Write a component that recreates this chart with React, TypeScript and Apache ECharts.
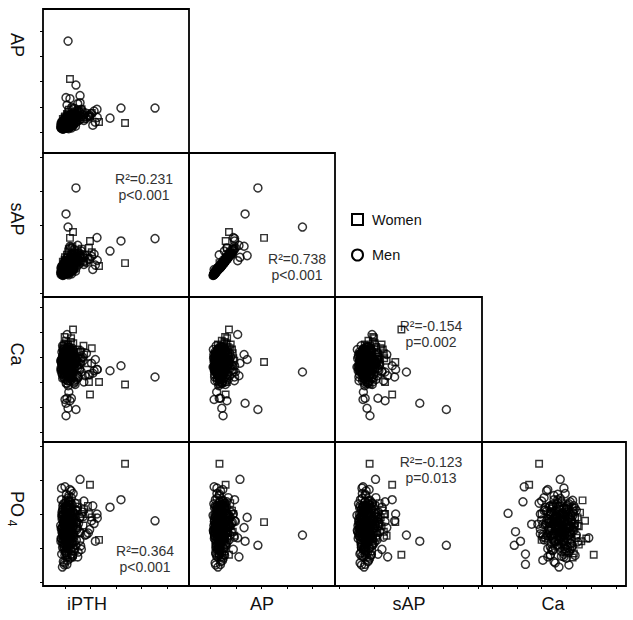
import React, { useEffect, useRef } from 'react';
import * as echarts from 'echarts';

// Variable order in every record: [iPTH, AP, sAP, Ca, PO4]
const variables = ['iPTH', 'AP', 'sAP', 'Ca', 'PO4'];
const rowVars = ['AP', 'sAP', 'Ca', 'PO4'];
const colVars = ['iPTH', 'AP', 'sAP', 'Ca'];
const rowTitles = ['AP', 'sAP', 'Ca', 'PO'];
const rowTitleSub = ['', '', '', '4'];
const colTitles = ['iPTH', 'AP', 'sAP', 'Ca'];

const axisRange: Record<string, [number, number]> = {
  iPTH: [27.5, 1172.5],
  AP: [17, 587],
  sAP: [-2.35, 82.35],
  Ca: [1.72, 2.88],
  PO4: [0.441, 2.559],
};
const axisTicks: Record<string, number[]> = {
  iPTH: [200, 400, 600, 800, 1000],
  AP: [100, 200, 300, 400, 500],
  sAP: [0, 20, 40, 60, 80],
  Ca: [1.8, 2.0, 2.2, 2.4, 2.6, 2.8],
  PO4: [0.5, 1.0, 1.5, 2.0, 2.5],
};

const menCore = [
  [178, 124, 12.8, 2.36, 1.42], [205, 138, 15.2, 2.29, 0.96], [232, 151, 17.9, 2.41, 1.63],
  [190, 117, 11.4, 2.24, 1.18], [251, 162, 19.6, 2.33, 1.05], [268, 131, 14.9, 2.45, 1.52],
  [214, 145, 16.4, 2.19, 1.28], [289, 174, 21.9, 2.38, 1.12], [172, 120, 12.3, 2.30, 1.71],
  [259, 156, 18.2, 2.47, 0.89], [236, 135, 14.3, 2.26, 1.37], [312, 182, 23.4, 2.34, 1.24],
  [186, 127, 13.1, 2.40, 1.58], [221, 148, 17.0, 2.21, 0.82], [342, 168, 20.9, 2.37, 1.46],
  [198, 114, 10.9, 2.32, 1.33], [253, 141, 16.1, 2.43, 1.07], [279, 159, 19.1, 2.18, 1.66],
  [211, 129, 13.8, 2.35, 1.21], [328, 190, 24.7, 2.28, 0.98], [176, 118, 11.7, 2.44, 1.49],
  [243, 153, 18.8, 2.23, 1.15], [264, 126, 13.4, 2.39, 1.80], [298, 166, 20.4, 2.31, 1.30],
  [191, 133, 14.6, 2.27, 1.02], [227, 146, 16.7, 2.48, 1.55], [358, 176, 22.1, 2.25, 1.19],
  [207, 121, 12.5, 2.42, 0.93], [274, 158, 19.4, 2.20, 1.41], [239, 138, 15.0, 2.36, 1.68],
  [316, 149, 17.4, 2.30, 1.11], [184, 112, 10.5, 2.46, 1.26], [250, 170, 21.2, 2.22, 1.74],
  [217, 129, 14.1, 2.38, 0.87], [293, 186, 23.1, 2.33, 1.38], [169, 116, 11.0, 2.29, 1.14],
  [231, 143, 16.3, 2.41, 1.47], [383, 164, 19.8, 2.26, 1.22], [201, 125, 13.6, 2.34, 1.61],
  [261, 152, 17.7, 2.44, 1.00], [225, 133, 14.8, 2.17, 1.35], [338, 180, 22.6, 2.40, 1.53],
  [194, 119, 12.1, 2.31, 0.78], [284, 161, 19.9, 2.37, 1.29], [248, 140, 15.6, 2.24, 1.84],
  [408, 172, 21.6, 2.35, 1.40], [181, 123, 12.7, 2.49, 1.09], [235, 156, 18.5, 2.28, 1.57],
  [303, 144, 16.5, 2.39, 0.94], [213, 128, 13.5, 2.32, 1.44], [271, 194, 25.6, 2.21, 1.16],
  [188, 114, 11.2, 2.42, 1.65], [246, 137, 15.3, 2.27, 1.25], [323, 160, 18.9, 2.45, 1.03],
  [209, 147, 16.9, 2.19, 1.50], [266, 171, 21.0, 2.34, 1.33], [174, 122, 12.0, 2.38, 0.91],
  [230, 135, 15.4, 2.30, 1.77], [368, 155, 18.0, 2.43, 1.20], [197, 131, 14.0, 2.25, 1.43],
  [257, 165, 20.3, 2.36, 1.08], [219, 142, 15.9, 2.46, 1.62], [428, 183, 22.9, 2.29, 1.36],
  [185, 117, 11.8, 2.33, 1.17], [241, 150, 17.6, 2.40, 0.85], [287, 138, 14.7, 2.22, 1.55],
  [203, 126, 13.0, 2.37, 1.30], [314, 178, 22.3, 2.31, 1.45], [227, 159, 19.0, 2.44, 1.06],
  [348, 146, 16.8, 2.20, 1.69], [193, 120, 12.4, 2.35, 1.23], [253, 198, 26.5, 2.28, 1.39],
  [276, 153, 17.2, 2.39, 0.99], [215, 132, 14.2, 2.47, 1.58], [393, 167, 20.1, 2.26, 1.27],
  [183, 111, 10.3, 2.32, 1.48], [237, 144, 16.0, 2.41, 1.13], [297, 163, 19.7, 2.23, 1.60],
  [206, 136, 15.5, 2.36, 0.95], [263, 176, 22.4, 2.43, 1.32], [453, 158, 19.2, 2.30, 1.44],
  [438, 139, 16.4, 2.38, 1.10], [418, 127, 13.9, 2.27, 1.62], [180, 130, 14.4, 2.34, 0.72],
  [195, 121, 12.9, 2.42, 0.75], [238, 149, 17.3, 2.25, 1.86], [211, 136, 15.1, 2.33, 1.79],
  [173, 126, 13.2, 2.38, 1.88], [187, 142, 16.6, 2.30, 0.80], [222, 118, 11.5, 2.21, 1.35],
  [244, 130, 14.0, 2.37, 1.52], [199, 151, 18.3, 2.45, 1.26], [262, 143, 15.8, 2.28, 1.18],
  [228, 162, 20.0, 2.35, 1.40], [182, 134, 14.5, 2.23, 1.56], [209, 124, 12.9, 2.40, 1.04],
  [255, 147, 17.1, 2.32, 1.64], [233, 128, 13.6, 2.46, 1.31], [196, 139, 15.7, 2.29, 1.15],
  [278, 170, 21.3, 2.34, 1.49], [171, 115, 11.6, 2.36, 1.28], [216, 153, 18.6, 2.27, 0.90],
  [240, 122, 12.2, 2.43, 1.45], [189, 145, 16.2, 2.32, 1.37], [270, 135, 14.6, 2.19, 1.21],
  [204, 117, 11.9, 2.38, 1.59], [249, 160, 19.3, 2.30, 1.34], [223, 127, 13.3, 2.35, 1.73],
  [181, 137, 15.0, 2.41, 1.01], [292, 148, 17.5, 2.26, 1.27], [212, 119, 12.6, 2.31, 1.46],
  [234, 141, 15.8, 2.48, 1.19], [177, 129, 13.7, 2.27, 1.53], [258, 125, 13.1, 2.36, 0.88],
  [200, 155, 18.9, 2.33, 1.66], [229, 113, 10.7, 2.39, 1.24], [306, 157, 18.7, 2.24, 1.36],
  [192, 128, 13.9, 2.44, 1.42], [245, 132, 14.3, 2.29, 0.97], [218, 164, 20.6, 2.37, 1.51],
  [175, 140, 15.6, 2.34, 1.29], [282, 123, 12.8, 2.40, 1.57], [207, 144, 16.6, 2.22, 1.12],
  [252, 116, 11.3, 2.33, 1.39], [226, 150, 17.8, 2.45, 1.70], [186, 132, 14.2, 2.30, 1.20],
  [265, 146, 16.9, 2.35, 1.48], [199, 124, 12.7, 2.28, 1.06], [242, 168, 20.8, 2.42, 1.34],
  [220, 137, 15.2, 2.26, 1.61], [166, 121, 12.2, 2.37, 1.33], [168, 133, 14.7, 2.31, 1.10],
  [188, 126, 13.4, 2.33, 1.27], [201, 133, 14.5, 2.37, 1.44], [215, 139, 15.9, 2.30, 1.09],
  [226, 121, 12.3, 2.41, 1.36], [237, 148, 17.4, 2.28, 1.52], [248, 129, 13.8, 2.35, 1.17],
  [179, 137, 15.3, 2.26, 1.31], [193, 144, 16.5, 2.44, 1.40], [207, 118, 11.7, 2.32, 1.22],
  [219, 155, 18.8, 2.38, 1.58], [231, 131, 14.2, 2.25, 0.99], [256, 137, 15.6, 2.40, 1.30],
  [174, 128, 13.6, 2.35, 1.14], [183, 119, 12.0, 2.29, 1.62], [197, 147, 17.0, 2.42, 1.19],
  [212, 125, 13.2, 2.27, 1.48], [224, 141, 16.1, 2.36, 1.05], [236, 158, 19.2, 2.31, 1.39],
  [247, 122, 12.5, 2.39, 1.26], [260, 134, 14.9, 2.24, 1.54], [191, 130, 14.0, 2.46, 1.35],
  [204, 152, 18.0, 2.34, 1.11], [218, 116, 11.4, 2.30, 1.43], [229, 136, 15.0, 2.43, 1.68],
  [241, 127, 13.5, 2.21, 1.20], [177, 141, 16.0, 2.37, 1.23], [186, 123, 12.6, 2.32, 1.50],
  [199, 135, 15.2, 2.27, 0.89], [210, 144, 16.8, 2.39, 1.32], [223, 130, 14.4, 2.34, 1.57],
  [233, 119, 12.1, 2.28, 1.29], [244, 154, 18.4, 2.36, 1.16], [255, 131, 14.1, 2.42, 1.45],
  [272, 142, 16.3, 2.31, 1.09], [285, 155, 18.6, 2.38, 1.37], [180, 115, 11.2, 2.40, 1.22],
  [194, 127, 13.7, 2.23, 1.34], [206, 140, 15.8, 2.45, 1.47], [217, 123, 12.8, 2.35, 1.01],
  [228, 146, 17.2, 2.29, 1.64], [239, 132, 14.6, 2.39, 1.25], [252, 151, 17.9, 2.26, 1.42],
  [189, 120, 12.4, 2.34, 1.12], [202, 129, 13.9, 2.31, 1.55], [214, 134, 14.8, 2.41, 1.18],
  [225, 149, 17.5, 2.33, 1.30], [238, 126, 13.3, 2.37, 1.49], [250, 143, 16.6, 2.30, 1.21],
  [266, 128, 13.7, 2.35, 1.43], [185, 135, 15.1, 2.38, 1.06], [198, 117, 11.8, 2.26, 1.39],
  [209, 150, 17.7, 2.40, 1.61], [221, 127, 13.4, 2.32, 1.28], [232, 138, 15.5, 2.44, 1.13],
  [246, 125, 13.0, 2.29, 1.35], [176, 131, 14.3, 2.31, 1.46], [190, 149, 17.6, 2.36, 1.24],
  [203, 122, 12.7, 2.43, 1.32], [216, 142, 16.2, 2.27, 1.50], [227, 117, 11.9, 2.37, 1.19],
];

const menNotable = [
  [224, 460, 38.8, 2.28, 1.19], [286, 286, 61.8, 1.98, 1.04], [208, 236, 46.5, 2.03, 1.10],
  [906, 195, 32.0, 2.24, 1.40], [639, 195, 30.6, 2.33, 1.71], [553, 155, 24.7, 2.29, 1.60],
  [216, 207, 19.0, 2.58, 1.15], [318, 216, 21.0, 2.35, 2.01], [451, 190, 32.6, 2.30, 1.50],
  [300, 212, 28.0, 2.25, 0.87], [200, 115, 13.8, 2.06, 1.90], [239, 165, 26.5, 2.05, 1.68],
  [224, 145, 16.1, 1.99, 1.24], [208, 150, 17.8, 1.93, 1.51], [250, 135, 22.4, 2.07, 0.91],
  [215, 140, 15.0, 2.07, 0.76], [230, 125, 14.0, 2.12, 1.35], [239, 232, 27.5, 2.42, 1.30],
  [318, 244, 22.0, 2.38, 1.45],
];

const womenCore = [
  [210, 150, 18.5, 2.44, 1.20], [260, 172, 22.9, 2.38, 1.35], [195, 130, 14.8, 2.50, 1.05],
  [300, 185, 25.2, 2.46, 1.55], [235, 143, 16.6, 2.41, 1.28], [380, 160, 20.8, 2.35, 1.62],
  [220, 168, 21.4, 2.48, 1.15], [270, 138, 15.5, 2.30, 1.42], [188, 125, 13.6, 2.43, 0.98],
  [330, 190, 26.0, 2.39, 1.50], [245, 155, 19.4, 2.52, 1.10], [410, 176, 24.0, 2.47, 1.45],
  [200, 162, 21.0, 2.36, 1.25], [286, 148, 17.9, 2.44, 1.38], [225, 180, 24.5, 2.50, 1.32],
  [350, 158, 18.8, 2.42, 1.57], [205, 134, 15.1, 2.46, 0.92], [258, 194, 27.4, 2.37, 1.18],
  [215, 120, 12.6, 2.33, 1.02], [248, 166, 20.2, 2.55, 1.40], [190, 140, 16.0, 2.49, 1.45],
  [232, 128, 13.8, 2.45, 1.60], [275, 157, 19.0, 2.40, 0.95], [208, 145, 16.9, 2.53, 1.70],
  [320, 170, 21.6, 2.44, 1.22], [240, 135, 15.0, 2.38, 1.08], [183, 152, 18.4, 2.47, 1.36],
  [265, 163, 20.5, 2.51, 1.52], [222, 118, 12.0, 2.42, 1.30], [298, 178, 23.3, 2.36, 1.66],
  [197, 158, 19.6, 2.56, 1.14], [252, 142, 16.2, 2.45, 0.86], [215, 172, 22.6, 2.40, 1.48],
  [345, 150, 18.0, 2.49, 1.33], [230, 188, 25.8, 2.43, 1.24],
];

const womenNotable = [
  [671, 136, 17.6, 2.18, 2.24], [239, 310, 32.4, 2.36, 1.38], [263, 173, 35.9, 2.62, 0.90],
  [396, 160, 30.6, 2.10, 1.93], [467, 140, 15.9, 2.20, 1.12], [388, 165, 26.5, 2.20, 1.50],
];

const correlations = [
  { row: 1, col: 0, r2: 'R²=0.231', p: 'p<0.001' },
  { row: 1, col: 1, r2: 'R²=0.738', p: 'p<0.001' },
  { row: 2, col: 2, r2: 'R²=-0.154', p: 'p=0.002' },
  { row: 3, col: 0, r2: 'R²=0.364', p: 'p<0.001' },
  { row: 3, col: 2, r2: 'R²=-0.123', p: 'p=0.013' },
];
const legendItems = ['Women', 'Men'];

// layout
const colLeft = [43, 189, 335, 482];
const colWidth = [146, 146, 147, 144];
const rowTop = [9, 153, 297, 442];
const rowHeight = [144, 144, 145, 144];
const rowTitleCenter = [45, 219, 354, 504];
const colTitleCenter = [87, 262, 409, 553];
const annotPos: Record<string, [number, number]> = {
  '1-0': [144, 179], '1-1': [297, 259], '2-2': [431, 326], '3-0': [145, 551], '3-2': [431, 462],
};
const FONT = "'Liberation Sans', Arial, Helvetica, sans-serif";

export default function App() {
  const ref = useRef<HTMLDivElement>(null);
  useEffect(() => {
    if (!ref.current) return;
    const chart = echarts.init(ref.current, null, { renderer: 'svg' });
    const men = [...menCore, ...menNotable];
    const women = [...womenCore, ...womenNotable];
    const grids: any[] = [];
    const xAxes: any[] = [];
    const yAxes: any[] = [];
    const series: any[] = [];
    let gi = 0;
    for (let r = 0; r < 4; r++) {
      for (let c = 0; c <= r; c++) {
        const xv = colVars[c];
        const yv = rowVars[r];
        const xi = variables.indexOf(xv);
        const yi = variables.indexOf(yv);
        grids.push({
          left: colLeft[c], top: rowTop[r], width: colWidth[c], height: rowHeight[r],
          show: true, borderColor: '#000', borderWidth: 1.8, backgroundColor: 'transparent',
        });
        xAxes.push({
          type: 'value', gridIndex: gi, min: axisRange[xv][0], max: axisRange[xv][1],
          axisLine: { show: false }, splitLine: { show: false }, axisLabel: { show: false },
          axisTick: { show: r === 3, customValues: axisTicks[xv], length: 3, inside: false, lineStyle: { color: '#000', width: 1 } },
        });
        yAxes.push({
          type: 'value', gridIndex: gi, min: axisRange[yv][0], max: axisRange[yv][1],
          axisLine: { show: false }, splitLine: { show: false }, axisLabel: { show: false },
          axisTick: { show: c === 0, customValues: axisTicks[yv], length: 3, inside: false, lineStyle: { color: '#000', width: 1 } },
        });
        series.push({
          type: 'scatter', name: 'Men', xAxisIndex: gi, yAxisIndex: gi, symbol: 'circle', symbolSize: 8,
          silent: true, itemStyle: { color: 'rgba(0,0,0,0)', borderColor: '#000', borderWidth: 1.5 },
          data: men.map((d) => [d[xi], d[yi]]),
        });
        series.push({
          type: 'scatter', name: 'Women', xAxisIndex: gi, yAxisIndex: gi, symbol: 'rect', symbolSize: 6.5,
          silent: true, itemStyle: { color: 'rgba(0,0,0,0)', borderColor: '#000', borderWidth: 1.4 },
          data: women.map((d) => [d[xi], d[yi]]),
        });
        gi++;
      }
    }

    const graphics: any[] = [];
    const centered = { align: 'center', verticalAlign: 'middle', textAlign: 'center', textVerticalAlign: 'middle' };
    colTitles.forEach((t, i) => {
      graphics.push({
        type: 'text', x: colTitleCenter[i], y: 604,
        style: { text: t, font: `18px ${FONT}`, fill: '#111', ...centered },
      });
    });
    // rotated row titles (reading top to bottom)
    rowTitles.forEach((t, i) => {
      graphics.push({
        type: 'text', x: 17, y: rowTitleCenter[i], rotation: -Math.PI / 2,
        style: { text: t, font: `18px ${FONT}`, fill: '#111', ...centered },
      });
      if (rowTitleSub[i]) {
        graphics.push({
          type: 'text', x: 12, y: rowTitleCenter[i] + 19, rotation: -Math.PI / 2,
          style: { text: rowTitleSub[i], font: `12px ${FONT}`, fill: '#111', ...centered },
        });
      }
    });
    correlations.forEach((a) => {
      const [x, y] = annotPos[`${a.row}-${a.col}`];
      graphics.push({ type: 'text', x, y, style: { text: a.r2, font: `14px ${FONT}`, fill: '#333', ...centered } });
      graphics.push({ type: 'text', x, y: y + 16, style: { text: a.p, font: `14px ${FONT}`, fill: '#333', ...centered } });
    });
    graphics.push({ type: 'rect', shape: { x: 352, y: 214, width: 11, height: 11 }, style: { fill: 'none', stroke: '#000', lineWidth: 2 } });
    graphics.push({ type: 'circle', shape: { cx: 357.5, cy: 255, r: 5.5 }, style: { fill: 'none', stroke: '#000', lineWidth: 2 } });
    legendItems.forEach((t, i) => {
      graphics.push({
        type: 'text', x: 372, y: i === 0 ? 220 : 255,
        style: { text: t, font: `14.5px ${FONT}`, fill: '#111', align: 'left', verticalAlign: 'middle', textAlign: 'left', textVerticalAlign: 'middle' },
      });
    });

    chart.setOption({
      animation: false,
      backgroundColor: '#fff',
      grid: grids,
      xAxis: xAxes,
      yAxis: yAxes,
      series,
      graphic: graphics,
    });
    return () => chart.dispose();
  }, []);
  return <div ref={ref} style={{ position: 'absolute', left: 0, top: 0, width: 633, height: 620 }} />;
}
